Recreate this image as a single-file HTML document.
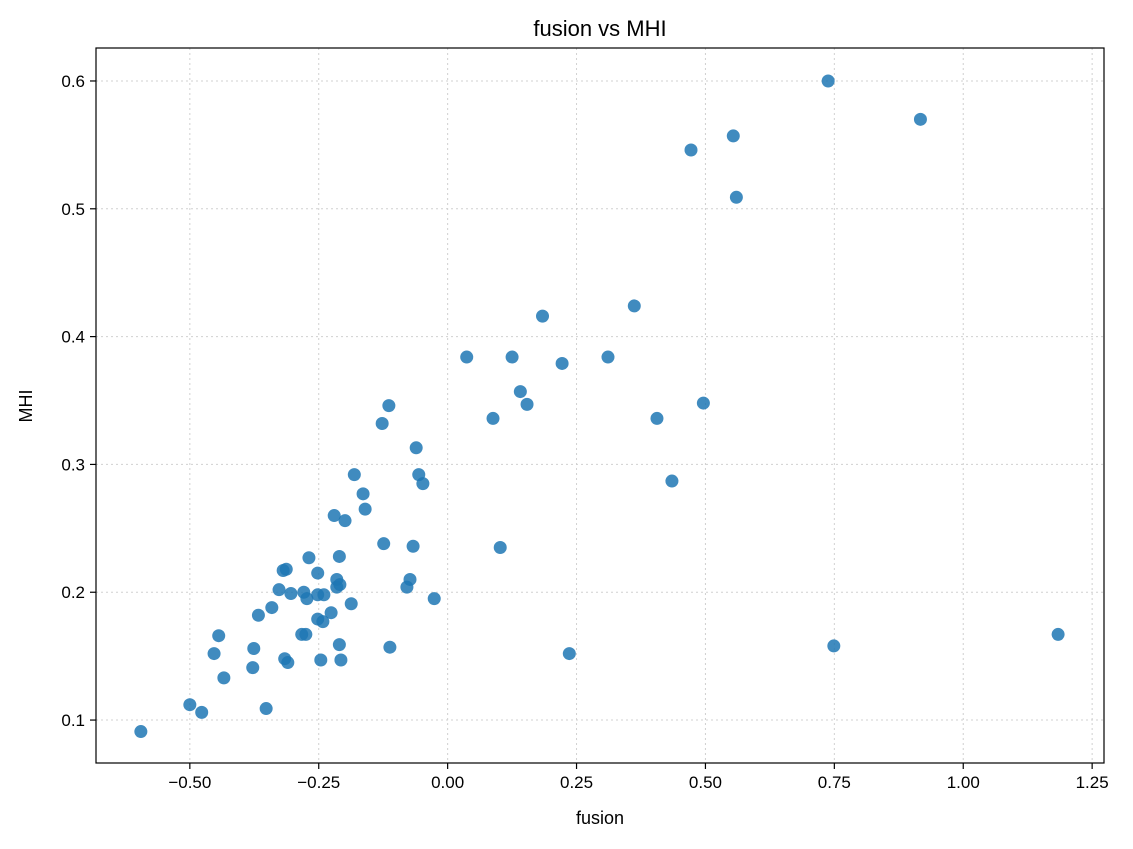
<!DOCTYPE html>
<html><head><meta charset="utf-8"><style>
body{margin:0;background:#fff;}
svg text{font-family:"Liberation Sans","DejaVu Sans",sans-serif;fill:#000;}
</style></head><body>
<svg id="chart" width="1133" height="844">
<rect x="0" y="0" width="1133" height="844" fill="#fff"/>
<g id="grid"></g>
<g id="points"></g>
<rect x="96" y="48" width="1008" height="715" fill="none" stroke="#000" stroke-width="1.2"/>
<g id="axes"></g>
<text x="600" y="36" font-size="22" text-anchor="middle">fusion vs MHI</text>
<text x="600" y="824" font-size="18" text-anchor="middle">fusion</text>
<text x="32" y="406" font-size="18" text-anchor="middle" transform="rotate(-90 32 406)">MHI</text>
</svg>
<script>
const xTicks=[-0.5,-0.25,0,0.25,0.5,0.75,1.0,1.25];
const xTickLabels=["−0.50","−0.25","0.00","0.25","0.50","0.75","1.00","1.25"];
const yTicks=[0.1,0.2,0.3,0.4,0.5,0.6];
const yTickLabels=["0.1","0.2","0.3","0.4","0.5","0.6"];
const fusion=[-0.595,-0.50,-0.477,-0.453,-0.444,-0.434,-0.378,-0.376,-0.367,-0.352,-0.341,-0.327,-0.319,-0.313,-0.316,-0.310,-0.304,-0.283,-0.275,-0.279,-0.273,-0.269,-0.252,-0.252,-0.252,-0.246,-0.242,-0.240,-0.226,-0.220,-0.215,-0.215,-0.209,-0.210,-0.210,-0.207,-0.199,-0.187,-0.181,-0.164,-0.160,-0.127,-0.124,-0.114,-0.112,-0.079,-0.073,-0.067,-0.061,-0.056,-0.048,-0.026,0.037,0.088,0.102,0.125,0.141,0.154,0.184,0.222,0.236,0.311,0.362,0.406,0.435,0.472,0.496,0.554,0.560,0.738,0.749,0.917,1.184];
const mhi=[0.091,0.112,0.106,0.152,0.166,0.133,0.141,0.156,0.182,0.109,0.188,0.202,0.217,0.218,0.148,0.145,0.199,0.167,0.167,0.200,0.195,0.227,0.215,0.198,0.179,0.147,0.177,0.198,0.184,0.260,0.210,0.204,0.206,0.228,0.159,0.147,0.256,0.191,0.292,0.277,0.265,0.332,0.238,0.346,0.157,0.204,0.210,0.236,0.313,0.292,0.285,0.195,0.384,0.336,0.235,0.384,0.357,0.347,0.416,0.379,0.152,0.384,0.424,0.336,0.287,0.546,0.348,0.557,0.509,0.600,0.158,0.570,0.167];
const NS="http://www.w3.org/2000/svg";
const X0=96,X1=1104,Y0=48,Y1=763,xmin=-0.682,xmax=1.273,ymin=0.0664,ymax=0.6258;
function sx(v){return X0+(v-xmin)/(xmax-xmin)*(X1-X0);}
function sy(v){return Y1-(v-ymin)/(ymax-ymin)*(Y1-Y0);}
function mk(t,a){const e=document.createElementNS(NS,t);for(const k in a)e.setAttribute(k,a[k]);return e;}
const grid=document.getElementById('grid'),axes=document.getElementById('axes'),pts=document.getElementById('points');
xTicks.forEach((t,i)=>{const x=sx(t);
 const g=mk('line',{x1:x,x2:x,y1:Y0,y2:Y1,stroke:'#d0d0d0','stroke-dasharray':'2,3','stroke-width':1});
 
 
 grid.appendChild(g);
 const tk=mk('line',{x1:x,x2:x,y1:Y1,y2:Y1+6,stroke:'#000','stroke-width':1.2});
 
 
 axes.appendChild(tk);
 const tx=mk('text',{x:x,y:Y1+25,'font-size':17,'text-anchor':'middle'});tx.textContent=xTickLabels[i];
 
 
 axes.appendChild(tx);});
yTicks.forEach((t,i)=>{const y=sy(t);
 const g=mk('line',{x1:X0,x2:X1,y1:y,y2:y,stroke:'#d0d0d0','stroke-dasharray':'2,3','stroke-width':1});
 
 
 grid.appendChild(g);
 const tk=mk('line',{x1:X0-6,x2:X0,y1:y,y2:y,stroke:'#000','stroke-width':1.2});
 
 
 axes.appendChild(tk);
 const tx=mk('text',{x:X0-11,y:y+6,'font-size':17,'text-anchor':'end'});tx.textContent=yTickLabels[i];
 
 
 axes.appendChild(tx);});
fusion.forEach((v,i)=>{const c=mk('circle',{cx:sx(v),cy:sy(mhi[i]),r:6.5,fill:'#1f77b4','fill-opacity':0.85});
 
 
 pts.appendChild(c);});
</script>
</body></html>
